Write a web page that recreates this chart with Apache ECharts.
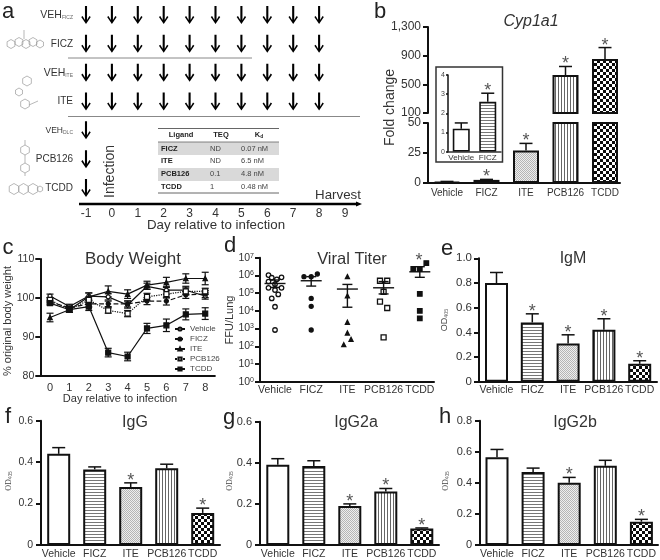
<!DOCTYPE html>
<html><head><meta charset="utf-8">
<style>html,body{margin:0;padding:0;background:#fff}#c{width:660px;height:560px}</style>
<script src="https://cdn.jsdelivr.net/npm/echarts@6/dist/echarts.min.js"></script>
</head><body><div id="c"></div>
<script>
// ---------- data ----------
const groups = ['Vehicle','FICZ','ITE','PCB126','TCDD'];
const doseDays = [-1,0,1,2,3,4,5,6,7,8];
const dayTicks = ['-1','0','1','2','3','4','5','6','7','8','9'];
const doseRows = ['VEH_FICZ','FICZ','VEH_ITE','ITE','VEH_DLC','PCB126','TCDD'];
const dailyRows = ['VEH_FICZ','FICZ','VEH_ITE','ITE'];
const singleRows = ['VEH_DLC','PCB126','TCDD'];
const tableHead = ['Ligand','TEQ','Kd'];
const tableLigand = ['FICZ','ITE','PCB126','TCDD'];
const tableTeq = ['ND','ND','0.1','1'];
const tableKd = ['0.07 nM','6.5 nM','4.8 nM','0.48 nM'];

const cypMean = [1,2.6,27,630,853];
const cypErr  = [1.3,3,33,749,1013];
const cypStar = [0,1,1,1,1];
const insetGroups = ['Vehicle','FICZ'];
const insetMean = [1.2,2.6];
const insetErr  = [1.5,3.05];
const insetStar = [0,1];

const weightDays = ['0','1','2','3','4','5','6','7','8'];
const wVehicle = [100.5,97.8,100.5,100.3,98.2,103,102,102,100.5];
const wFICZ    = [99,97.5,98.5,98.5,98.5,99.2,99.2,100.8,101];
const wITE     = [95,97,100.3,101.7,101,103.3,104,105,105];
const wPCB     = [99.5,97,99.5,96.8,96,100.3,101,101.7,101.7];
const wTCDD    = [98.7,97,97.8,86,85,92.2,93,95.8,96];
const wVehicleE= [.5,.6,.8,.8,.8,.8,1,1,.8];
const wFICZE   = [.5,.6,.8,.7,.8,.9,1,.9,.9];
const wITEE    = [1.1,.7,1,1.4,1.1,1,1.3,1.2,1.6];
const wPCBE    = [.6,.7,.8,.7,.8,.9,1,.9,.8];
const wTCDDE   = [.5,.7,1,1.1,1.1,1.3,1.6,1.4,1.5];

const titerVehicle = [1.05e6,7.8e5,7.4e5,6e5,4.5e5,3.2e5,2e5,2e5,1.5e5,8.5e4,5e4,1.7e4,830];
const titerVehicleX= [-.18,.18,-.09,.05,-.18,0,-.18,.18,0,.09,-.09,0,0];
const titerFICZ    = [8.5e5,8.5e5,1.2e6,5e4,1.8e4,830];
const titerFICZX   = [-.2,0,.17,0,0,0];
const titerITE     = [8.5e5,7e4,2250,560,245,123];
const titerITEX    = [0,0,0,0,.1,-.1];
const titerPCB     = [5e5,5e5,1.2e5,3.3e4,1.45e4,316];
const titerPCBX    = [-.1,.1,0,-.1,.1,0];
const titerTCDD    = [5e6,2.3e6,2.3e6,9e4,1e4,3800];
const titerTCDDX   = [.18,-.18,0,0,0,0];
const titerMean = [3.5e5,5e5,1.7e5,2e5,1.6e6];
const titerLo   = [2.1e5,2.5e5,1.6e4,9e4,7.8e5];
const titerHi   = [5.5e5,8.5e5,3.1e5,4.5e5,3.1e6];

const igmMean = [.8,.48,.31,.42,.145];
const igmErr  = [.885,.55,.38,.51,.17];
const igmStar = [0,1,1,1,1];
const iggMean = [.44,.365,.28,.37,.155];
const iggErr  = [.47,.377,.30,.39,.178];
const iggStar = [0,0,1,0,1];
const g2aMean = [.39,.385,.19,.26,.08];
const g2aErr  = [.42,.41,.20,.275,.083];
const g2aStar = [0,0,1,1,1];
const g2bMean = [.565,.47,.40,.51,.15];
const g2bErr  = [.615,.495,.435,.545,.165];
const g2bStar = [0,0,1,0,1];

// ---------- helpers ----------
const FF = '"Liberation Sans", Arial, sans-serif';
const INK = '#111', TXT = '#333';
function pat(w,h,bg,fg,rects){
  const c=document.createElement('canvas');c.width=w;c.height=h;const x=c.getContext('2d');
  x.fillStyle=bg;x.fillRect(0,0,w,h);x.fillStyle=fg;rects.forEach(r=>x.fillRect(r[0],r[1],r[2],r[3]));
  return {image:c,repeat:'repeat'};
}
const fills = {
  Vehicle:'#fff',
  FICZ:pat(1,3,'#fff','#777',[[0,0,1,1]]),
  ITE:pat(2,2,'#eee','#b5b5b5',[[0,0,1,1],[1,1,1,1]]),
  PCB126:pat(3,1,'#fff','#666',[[0,0,1,1]]),
  TCDD:pat(6,6,'#0a0a0a','#fff',[[0,0,3,3],[3,3,3,3]])
};
const grid=[],xAxis=[],yAxis=[],series=[],title=[],graphic=[];
function T(text,x,y,size,o){o=o||{};
  graphic.push({type:'text',x,y,rotation:o.rot||0,z:6,silent:true,style:Object.assign({text,
    font:(o.style||'')+' '+(o.weight||'')+' '+size+'px '+(o.ff||FF),fill:o.fill||TXT,
    align:o.align||'center',verticalAlign:'middle',textAlign:o.align||'center',textVerticalAlign:'middle'},o.extra||{})});
}
function L(x1,y1,x2,y2,c,w){graphic.push({type:'line',z:1,silent:true,shape:{x1,y1,x2,y2},style:{stroke:c,lineWidth:w}});}
function hex(cx,cy,r){const p=[];for(let i=0;i<6;i++){const a=Math.PI/6+i*Math.PI/3;p.push([cx+r*Math.cos(a),cy+r*Math.sin(a)]);}
  graphic.push({type:'polygon',z:1,silent:true,shape:{points:p},style:{fill:'none',stroke:'#999',lineWidth:.7}});}
function addGrid(l,t,w,h){grid.push({left:l,top:t,width:w,height:h,containLabel:false,outerBoundsMode:'none'});return grid.length-1;}
function valY(g,min,max,o){o=o||{};
  yAxis.push({gridIndex:g,type:'value',min,max,interval:o.interval,z:o.z||3,
    axisLine:{show:true,onZero:false,lineStyle:{color:INK,width:o.lw||2}},
    axisTick:{show:true,length:o.tl||5,lineStyle:{color:INK,width:o.lw||2},customValues:o.custom},
    splitLine:{show:false},
    axisLabel:{color:o.color||TXT,fontFamily:FF,fontSize:o.fs||11,margin:o.margin||7,customValues:o.custom,
      showMinLabel:true,showMaxLabel:true,
      formatter:o.fmt||(v=>String(v))}});
  return yAxis.length-1;
}
function valX(g,min,max,fs,labels,margin){
  xAxis.push({gridIndex:g,type:'value',min,max,z:3,
    axisLine:{show:true,onZero:false,lineStyle:{color:INK,width:2}},axisTick:{show:false},splitLine:{show:false},
    axisLabel:labels?{show:true,color:TXT,fontFamily:FF,fontSize:fs,margin:margin||3,customValues:[0,1,2,3,4],
      formatter:v=>groups[Math.round(v)]||''}:{show:false}});
  return xAxis.length-1;
}
function whisker(p,api){
  const x=api.value(0),a=api.coord([x,api.value(1)]),b=api.coord([x,api.value(2)]);
  const s={stroke:INK,lineWidth:1.5};
  const kids=[{type:'line',shape:{x1:a[0],y1:a[1],x2:b[0],y2:b[1]},style:s},
              {type:'line',shape:{x1:b[0]-6.5,y1:b[1],x2:b[0]+6.5,y2:b[1]},style:s}];
  if(api.value(3)) kids.push({type:'text',x:b[0],y:b[1]-2,style:{text:'*',fill:'#555',font:'18px '+FF,align:'center',verticalAlign:'middle',textAlign:'center',textVerticalAlign:'middle'}});
  return {type:'group',children:kids};
}
function bars(xi,yi,names,means,errs,stars,bw,lw){
  series.push({type:'bar',xAxisIndex:xi,yAxisIndex:yi,barWidth:bw,barGap:'-100%',
    data:means.map((v,i)=>({value:[i,v],itemStyle:{color:fills[names[i]]}})).filter(d=>d.value[1]!=null),
    itemStyle:{borderColor:INK,borderWidth:lw||2}});
  series.push({type:'custom',xAxisIndex:xi,yAxisIndex:yi,renderItem:whisker,z:3,
    data:means.map((v,i)=>[i,v,errs[i],stars[i]]).filter(d=>d[1]!=null)});
}
function barPanel(o){
  const g=addGrid(o.left,o.top,o.width,o.height);
  const xmin=(o.left-o.c0)/o.step, xmax=(o.left+o.width-o.c0)/o.step;
  const xi=valX(g,xmin,xmax,o.xfs||10.5,true,o.xm||3);
  const yi=valY(g,0,o.max,{interval:o.iv,fs:o.yfs||11,margin:o.ym||7,fmt:v=>v===0?'0':v.toFixed(1)});
  bars(xi,yi,groups,o.mean,o.err,o.star,o.bw||23);
  title.push({text:o.title,left:o.tx,top:o.ty,textAlign:'center',textStyle:{fontFamily:FF,fontSize:16,fontWeight:'normal',color:TXT}});
}
function od(x,y,serif,size){
  graphic.push({type:'text',x,y,rotation:Math.PI/2,z:6,silent:true,style:{text:'{a|OD}{b|405}',align:'center',verticalAlign:'middle',textAlign:'center',textVerticalAlign:'middle',
    rich:{a:{fontFamily:serif?'"Liberation Serif"':FF,fontSize:size,fill:'#444',color:'#444'},b:{fontFamily:FF,fontSize:size*0.6,fill:'#666',color:'#666',verticalAlign:'bottom',padding:[3,0,0,0]}}}});
}

// ---------- panel a ----------
const ga=addGrid(86,0.6,259,201.8);
xAxis.push({gridIndex:ga,type:'value',min:-1,max:9,interval:1,axisLine:{show:false},axisTick:{show:false},splitLine:{show:false},
  axisLabel:{color:TXT,fontFamily:FF,fontSize:12,margin:5,showMinLabel:true,showMaxLabel:true,formatter:v=>dayTicks[v+1]}});
const xa=xAxis.length-1;
yAxis.push({gridIndex:ga,type:'category',data:doseRows,inverse:true,axisLine:{show:false},axisTick:{show:false},splitLine:{show:false},
  axisLabel:{interval:0,margin:13,align:'right',color:TXT,fontFamily:FF,fontSize:10,
    formatter:v=>{const p=v.split('_');return p[1]?`{${p[1]==='DLC'?'m2':'m'}|${p[0]}}{s|${p[1]}}`:v;},
    rich:{m:{fontSize:10.5,fontFamily:FF,color:TXT},m2:{fontSize:8.5,fontFamily:FF,color:TXT},s:{fontSize:5,fontFamily:FF,color:'#666',verticalAlign:'bottom',padding:[4,0,0,0]}}}});
const ya=yAxis.length-1;
const arrowPath='path://M3.9 0H6.1V15.5L8.6 11L10 12.2L5 20L0 12.2L1.4 11L3.9 15.5Z';
const arrowData=[];
dailyRows.forEach(r=>doseDays.forEach(d=>arrowData.push([d,r])));
singleRows.forEach(r=>arrowData.push([doseDays[0],r]));
series.push({type:'scatter',xAxisIndex:xa,yAxisIndex:ya,symbol:arrowPath,symbolSize:[9.5,18],itemStyle:{color:'#000',opacity:1},data:arrowData,clip:false});
L(68,58,252,58,'#888',1);L(68,116.5,360,116.5,'#888',1);
L(79,204,358,204,'#000',2.4);
graphic.push({type:'polygon',z:2,silent:true,shape:{points:[[356,201.5],[362,204],[356,206.5]]},style:{fill:'#000'}});
T('Infection',110,171.5,14,{rot:Math.PI/2});
T('Harvest',338,195,13.3);
T('Day relative to infection',216,225.5,13.3);
// table
graphic.push({type:'rect',z:0,silent:true,shape:{x:158,y:142,width:121,height:13},style:{fill:'#d9d9d9'}});
graphic.push({type:'rect',z:0,silent:true,shape:{x:158,y:168,width:121,height:13},style:{fill:'#d9d9d9'}});
L(158,128.5,279,128.5,'#666',1);L(158,142,279,142,'#666',.8);L(158,193,279,193,'#666',1);
T(tableHead[0],181,135,7.5,{weight:'bold',fill:'#222'});T(tableHead[1],221,135,7.5,{weight:'bold',fill:'#222'});
graphic.push({type:'text',x:259,y:135,z:6,silent:true,style:{text:'{a|K}{b|d}',align:'center',verticalAlign:'middle',textAlign:'center',textVerticalAlign:'middle',
  rich:{a:{fontFamily:FF,fontWeight:'bold',fontSize:7.5,fill:'#222',color:'#222'},b:{fontFamily:FF,fontWeight:'bold',fontSize:5,fill:'#222',color:'#222',verticalAlign:'bottom'}}}});
const tableY=[149,161,174,187];
tableLigand.forEach((n,i)=>{T(n,161,tableY[i],7.5,{weight:'bold',align:'left',fill:'#222'});
  T(tableTeq[i],210,tableY[i],7.5,{align:'left',fill:'#444'});T(tableKd[i],241,tableY[i],7.5,{align:'left',fill:'#444'});});
// molecule sketches
[[11,44,4.5],[19,42,4.5],[26,44,4.5],[33,42,4.5],[40,44,4]].forEach(h=>hex(h[0],h[1],h[2]));
L(24,39,24,30,'#999',.7);
[[27,81,5],[19,92,4],[25,104,5]].forEach(h=>hex(h[0],h[1],h[2]));L(29,105,38,101,'#999',.7);
[[25,150,5],[25,168,5]].forEach(h=>hex(h[0],h[1],h[2]));L(25,155,25,163,'#999',.7);L(25,145,25,140,'#999',.7);L(25,173,25,176,'#999',.7);
[[14,189,5.5],[23.5,189,5.5],[33,189,5.5],[40,189,3]].forEach(h=>hex(h[0],h[1],h[2]));

// ---------- panel b (broken axis) ----------
const bLeft=428,bWidth=192,bC0=447,bStep=39.5;
const gbU=addGrid(bLeft,27,bWidth,86), gbL=addGrid(bLeft,123,bWidth,60);
const bxmin=(bLeft-bC0)/bStep,bxmax=(bLeft+bWidth-bC0)/bStep;
xAxis.push({gridIndex:gbU,type:'value',min:bxmin,max:bxmax,show:false});
const xbU=xAxis.length-1;
const xbL=valX(gbL,bxmin,bxmax,10,true,5);
const ybU=valY(gbU,100,1300,{custom:[100,500,900,1300],fs:12,margin:7,fmt:v=>v>=1000?Math.floor(v/1000)+','+String(v%1000).padStart(3,'0'):String(v)});
const ybL=valY(gbL,0,50,{interval:25,fs:12,margin:7});
bars(xbU,ybU,groups,cypMean.map(v=>v>100?v:null),cypErr,cypStar,26);
bars(xbL,ybL,groups,cypMean,cypErr,cypStar,26);
// whiskers and stars in the lower grid only for bars below the break
series[series.length-1].data=cypMean.map((v,i)=>[i,v,cypErr[i],cypStar[i]]).filter(d=>d[1]<=50);
title.push({text:'Cyp1a1',left:526,top:9,textAlign:'center',textStyle:{fontFamily:FF,fontSize:16,fontStyle:'italic',fontWeight:'normal',color:TXT}});
T('Fold change',390,107.5,14,{rot:Math.PI/2});
// inset
graphic.push({type:'rect',z:1,silent:true,shape:{x:436,y:67,width:66.5,height:95},style:{fill:'#fff',stroke:'#333',lineWidth:1.5}});
const gi=addGrid(448,75,53,76.7);
xAxis.push({gridIndex:gi,type:'category',data:insetGroups,z:5,axisLine:{lineStyle:{color:'#333',width:1.5}},axisTick:{show:false},
  axisLabel:{interval:0,color:TXT,fontFamily:FF,fontSize:8,margin:2,hideOverlap:false}});
const xi0=xAxis.length-1;
const yi0=valY(gi,0,4,{interval:1,fs:7,lw:1.5,tl:2,margin:3,z:5,color:'#444'});
bars(xi0,yi0,insetGroups,insetMean,insetErr,insetStar,17,1.6);
series[series.length-2].z=4;series[series.length-1].z=5;

// ---------- panel c ----------
const gc=addGrid(40.3,259,174.6,117);
xAxis.push({gridIndex:gc,type:'category',data:weightDays,z:3,axisLine:{lineStyle:{color:INK,width:2}},
  axisTick:{alignWithLabel:true,length:5,lineStyle:{color:INK,width:2}},
  axisLabel:{color:TXT,fontFamily:FF,fontSize:11,margin:6,interval:0}});
const xc=xAxis.length-1;
const yc=valY(gc,80,110,{interval:10,fs:10.5,margin:6});
function bw(name,vals,errs,symbol,dash,fill){
  series.push({type:'custom',xAxisIndex:xc,yAxisIndex:yc,z:3,data:vals.map((v,i)=>[i,v-errs[i],v+errs[i]]),
    renderItem:(p,api)=>{const x=api.value(0),a=api.coord([x,api.value(1)]),b=api.coord([x,api.value(2)]);const s={stroke:INK,lineWidth:1.2};
      return {type:'group',children:[{type:'line',shape:{x1:a[0],y1:a[1],x2:b[0],y2:b[1]},style:s},
        {type:'line',shape:{x1:a[0]-3.5,y1:a[1],x2:a[0]+3.5,y2:a[1]},style:s},{type:'line',shape:{x1:b[0]-3.5,y1:b[1],x2:b[0]+3.5,y2:b[1]},style:s}]};}});
  series.push({name,type:'line',xAxisIndex:xc,yAxisIndex:yc,z:4,data:vals,symbol,symbolSize:symbol==='triangle'?4.5:(symbol==='rect'?5:4),showSymbol:true,
    lineStyle:{color:INK,width:1.2,type:dash},itemStyle:{color:fill,borderColor:INK,borderWidth:1.2,opacity:1}});
}
bw('Vehicle',wVehicle,wVehicleE,'circle','solid','#fff');
bw('FICZ',wFICZ,wFICZE,'circle','dashed',INK);
bw('ITE',wITE,wITEE,'triangle','solid',INK);
bw('PCB126',wPCB,wPCBE,'rect','dotted','#fff');
bw('TCDD',wTCDD,wTCDDE,'rect','solid',INK);
title.push({text:'Body Weight',left:128,top:246,textAlign:'center',textStyle:{fontFamily:FF,fontSize:17,fontWeight:'normal',color:TXT}});
T('% original body weight',8,321,11,{rot:Math.PI/2});
T('Day relative to infection',120,398.5,11);

// ---------- panel d ----------
const gd=addGrid(260,257.7,174,124);
const dC0=275,dStep=36.2;
const xd=valX(gd,(260-dC0)/dStep,(434-dC0)/dStep,10.5,true,3);
yAxis.push({gridIndex:gd,type:'log',logBase:10,min:1,max:1e7,z:3,
  axisLine:{show:true,onZero:false,lineStyle:{color:INK,width:2}},axisTick:{show:true,length:5,lineStyle:{color:INK,width:2}},splitLine:{show:false},minorTick:{show:false},
  axisLabel:{margin:6,showMinLabel:true,showMaxLabel:true,color:TXT,formatter:v=>`{a|10}{b|${Math.round(Math.log10(v))}}`,
    rich:{a:{fontSize:10.5,fontFamily:FF,color:TXT},b:{fontSize:7,fontFamily:FF,color:TXT,verticalAlign:'top'}}}});
const yd=yAxis.length-1;
function pts(name,i,vals,off,symbol,fill,size){
  series.push({type:'scatter',xAxisIndex:xd,yAxisIndex:yd,z:4,symbol,symbolSize:size,
    itemStyle:{color:fill,borderColor:INK,borderWidth:1.3,opacity:1},data:vals.map((v,k)=>[i+off[k],v])});
}
series.push({type:'custom',xAxisIndex:xd,yAxisIndex:yd,z:5,data:titerMean.map((m,i)=>[i,m,titerLo[i],titerHi[i]]),
  renderItem:(p,api)=>{const x=api.value(0),m=api.coord([x,api.value(1)]),a=api.coord([x,api.value(2)]),b=api.coord([x,api.value(3)]);const s={stroke:INK,lineWidth:1.4};
    return {type:'group',children:[{type:'line',shape:{x1:m[0]-10.5,y1:m[1],x2:m[0]+10.5,y2:m[1]},style:s},{type:'line',shape:{x1:a[0],y1:a[1],x2:b[0],y2:b[1]},style:s},
      {type:'line',shape:{x1:a[0]-5,y1:a[1],x2:a[0]+5,y2:a[1]},style:s},{type:'line',shape:{x1:b[0]-5,y1:b[1],x2:b[0]+5,y2:b[1]},style:s}]};}});
pts('Vehicle',0,titerVehicle,titerVehicleX,'circle','#fff',4.5);
pts('FICZ',1,titerFICZ,titerFICZX,'circle',INK,4);
pts('ITE',2,titerITE,titerITEX,'triangle',INK,4);
pts('PCB126',3,titerPCB,titerPCBX,'rect','#fff',5);
pts('TCDD',4,titerTCDD,titerTCDDX,'rect',INK,4.5);
T('*',419,261,18,{fill:'#555'});
T('FFU/Lung',230,320,11,{rot:Math.PI/2});
title.push({text:'Viral Titer',left:347,top:246,textAlign:'center',textStyle:{fontFamily:FF,fontSize:16.5,fontWeight:'normal',color:TXT}});

// ---------- panels e-h ----------
barPanel({left:479,top:258.3,width:178,height:123.4,c0:496.5,step:35.8,max:1,iv:.2,mean:igmMean,err:igmErr,star:igmStar,title:'IgM',tx:568,ty:246,yfs:11.5,ym:7});
barPanel({left:41,top:420.7,width:179,height:124.3,c0:58.7,step:36,max:.6,iv:.2,mean:iggMean,err:iggErr,star:iggStar,title:'IgG',tx:130,ty:410,yfs:10.5,ym:8,xm:4});
barPanel({left:260,top:421.7,width:179,height:123.3,c0:277.8,step:36,max:.6,iv:.2,mean:g2aMean,err:g2aErr,star:g2aStar,title:'IgG2a',tx:351,ty:410,yfs:11,ym:8,xm:4});
barPanel({left:480,top:420.7,width:178,height:124.3,c0:497,step:36.1,max:.8,iv:.2,mean:g2bMean,err:g2bErr,star:g2bStar,title:'IgG2b',tx:570,ty:410,yfs:11,ym:8,xm:4});
od(445,320,false,9);od(9,481,true,8);od(230,481,true,8);od(446,481,true,8);

// ---------- panel letters ----------
[['a',8,12],['b',380,12],['c',8,248],['d',230,246],['e',447,249],['f',8,417],['g',229,418],['h',445,417]]
  .forEach(p=>T(p[0],p[1],p[2],22,{fill:'#222'}));

echarts.init(document.getElementById('c'),null,{renderer:'canvas'}).setOption({
  animation:false,backgroundColor:'#fff',grid,xAxis,yAxis,series,title,
  graphic:{elements:graphic},
  legend:{show:true,orient:'vertical',left:174,top:325,itemWidth:10,itemHeight:4,itemGap:2,padding:0,
    data:['Vehicle','FICZ','ITE','PCB126','TCDD'],textStyle:{fontFamily:FF,fontSize:8,color:'#444',lineHeight:8},selectedMode:false}
});
</script></body></html>
